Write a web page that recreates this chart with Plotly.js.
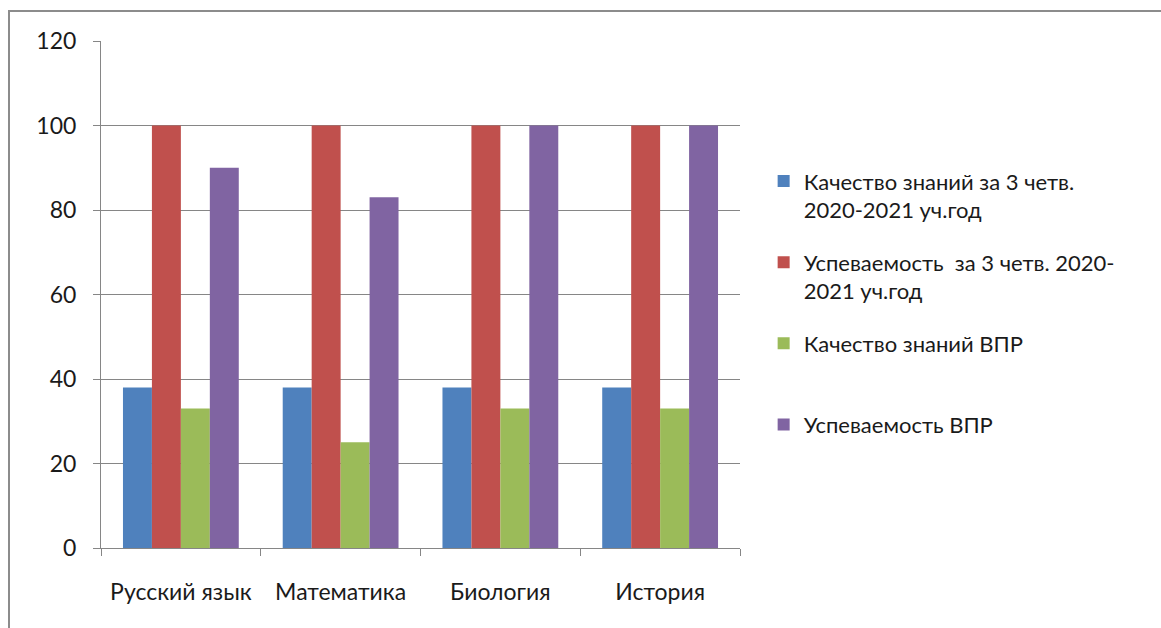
<!DOCTYPE html>
<html>
<head>
<meta charset="utf-8">
<script src="https://cdn.plot.ly/plotly-3.0.1.min.js"></script>
<style>
  html, body { margin: 0; padding: 0; background: #ffffff; }
  #chart { position: absolute; left: 0; top: 0; width: 1161px; height: 628px; }
  #frame { position: absolute; left: 8px; top: 10px; width: 1153px; height: 618px;
           border-top: 2px solid #8c8c8c; border-left: 2px solid #8c8c8c; box-sizing: border-box; pointer-events: none; }
</style>
</head>
<body>
<div id="chart"></div>
<div id="frame"></div>
<script>
const categories = ["Русский язык", "Математика", "Биология", "История"];
const seriesNames = [
  "Качество знаний за 3 четв.<br>2020-2021 уч.год",
  "Успеваемость  за 3 четв. 2020-<br>2021 уч.год",
  "Качество знаний ВПР<br>&nbsp;",
  "Успеваемость ВПР<br>&nbsp;"
];
const qualityQ3 = [38, 38, 38, 38];
const successQ3 = [100, 100, 100, 100];
const qualityVPR = [33, 25, 33, 33];
const successVPR = [90, 83, 100, 100];
const colors = ["#4F81BD", "#C0504D", "#9BBB59", "#8064A2"];
const yTicks = [0, 20, 40, 60, 80, 100, 120];

const values = [qualityQ3, successQ3, qualityVPR, successVPR];
const traces = values.map((v, i) => ({
  type: "bar",
  name: seriesNames[i],
  x: categories,
  y: v,
  legendgroup: "g" + i,
  marker: { color: colors[i], line: { width: 0 } },
  hoverinfo: "x+y"
}));

const font = "Lato, 'Open Sans', 'Noto Sans', sans-serif";

const layout = {
  width: 1161,
  height: 628,
  paper_bgcolor: "#ffffff",
  plot_bgcolor: "#ffffff",
  margin: { l: 101, r: 421, t: 41, b: 80 },
  barmode: "group",
  bargap: 0.275,
  bargroupgap: 0,
  font: { family: font, size: 23, color: "#1a1a1a" },
  showlegend: true,
  legend: {
    x: 1.037, xanchor: "left",
    y: 0.765, yanchor: "top",
    traceorder: "grouped",
    tracegroupgap: 21,
    valign: "top",
    font: { family: font, size: 22, color: "#1a1a1a" },
    bgcolor: "rgba(0,0,0,0)",
    borderwidth: 0
  },
  xaxis: {
    type: "category",
    showline: true,
    linecolor: "#868686",
    linewidth: 1,
    ticks: "outside",
    tickson: "boundaries",
    ticklen: 7,
    tickcolor: "#868686",
    showgrid: false,
    ticklabelstandoff: 23,
    tickfont: { family: font, size: 23, color: "#1a1a1a" }
  },
  yaxis: {
    range: [0, 120],
    tickvals: yTicks,
    ticktext: yTicks.map(String),
    showline: true,
    linecolor: "#868686",
    linewidth: 1,
    ticks: "outside",
    ticklen: 7,
    tickcolor: "#868686",
    showgrid: true,
    gridcolor: "#868686",
    gridwidth: 1,
    zeroline: false,
    ticklabelstandoff: 12,
    tickfont: { family: font, size: 23, color: "#1a1a1a" }
  }
};

Plotly.newPlot("chart", traces, layout, { displayModeBar: false, staticPlot: true });
</script>
</body>
</html>
